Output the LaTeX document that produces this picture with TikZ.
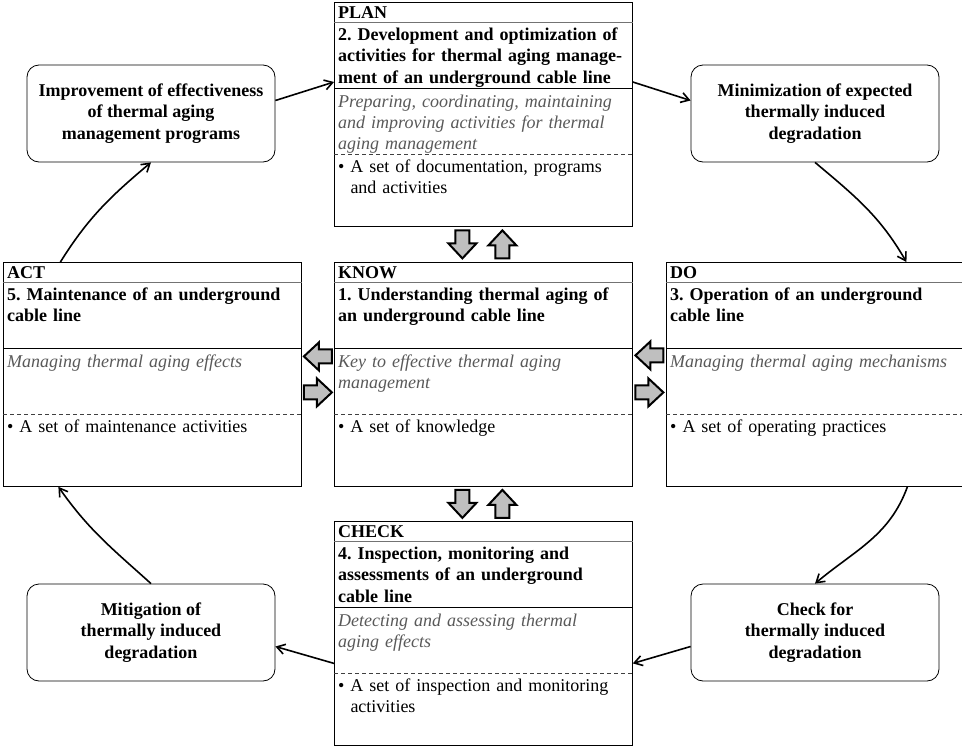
\documentclass[tikz,border=0pt]{standalone}
\usepackage{fontspec}
\setmainfont{Liberation Serif}
\usetikzlibrary{arrows.meta,calc}
\frenchspacing

\begin{document}
\begin{tikzpicture}[x=1pt,y=-1pt,>={Straight Barb[length=8pt,width=10pt]},
  frame/.style={draw,line width=0.8pt,anchor=north west,minimum width=298pt,minimum height=224pt,inner sep=0pt},
  txt/.style={anchor=base west,inner sep=0pt,text width=292pt,align=left,font=\fontsize{18}{21}\selectfont},
  ttl/.style={txt,font=\fontsize{18}{21}\selectfont\bfseries},
  bld/.style={txt,font=\fontsize{18}{21.5}\selectfont\bfseries},
  itl/.style={txt,font=\fontsize{18}{21}\selectfont\itshape,text=black!65},
  goal/.style={draw,line width=0.8pt,rounded corners=12pt,minimum width=248pt,minimum height=97pt,align=center,font=\fontsize{18}{21.5}\selectfont\bfseries},
  blk/.style={draw,line width=2pt,fill=black!25,line join=miter},
  cyc/.style={->,line width=1.6pt}]
\useasboundingbox (0,0) rectangle (962,747);
% stage boxes
\foreach \nm/\x/\y/\ttl/\ta/\tb/\tc in {
  plan/334/2/PLAN/{2. Development and optimization of\\activities for thermal aging manage-\\ment of an underground cable line}/{Preparing, coordinating, maintaining\\and improving activities for thermal\\aging management}/{A set of documentation, programs\\\hphantom{\textbullet\ }and activities},
  know/334/262/KNOW/{1. Understanding thermal aging of\\an underground cable line}/{Key to effective thermal aging\\management}/{A set of knowledge},
  act/3/262/ACT/{5. Maintenance of an underground\\cable line}/{Managing thermal aging effects}/{A set of maintenance activities},
  do/666/262/DO/{3. Operation of an underground\\cable line}/{Managing thermal aging mechanisms}/{A set of operating practices},
  check/334/521/CHECK/{4. Inspection, monitoring and\\assessments of an underground\\cable line}/{Detecting and assessing thermal\\aging effects}/{A set of inspection and monitoring\\\hphantom{\textbullet\ }activities}}{
  \node[frame] (\nm) at (\x,\y) {};
  \draw[black!55] ([yshift=-20pt]\nm.north west) -- ([yshift=-20pt]\nm.north east);
  \draw[line width=0.8pt] ([yshift=-86pt]\nm.north west) -- ([yshift=-86pt]\nm.north east);
  \draw[black!75,dash pattern=on 4pt off 3pt] ([yshift=-152pt]\nm.north west) -- ([yshift=-152pt]\nm.north east);
  \node[ttl] (\nm-t) at ([xshift=4pt,yshift=-16pt]\nm.north west) {\ttl};
  \node[bld] (\nm-a) at ([xshift=4pt,yshift=-38pt]\nm.north west) {\ta};
  \node[itl] (\nm-b) at ([xshift=4pt,yshift=-105pt]\nm.north west) {\tb};
  \node[txt] (\nm-c) at ([xshift=4pt,yshift=-170pt]\nm.north west) {\textbullet\ \tc};
}
% results
\node[goal] (tl) at (151,113.5) {Improvement of effectiveness\\of thermal aging\\management programs};
\node[goal] (tr) at (815,113.5) {Minimization of expected\\thermally induced\\degradation};
\node[goal] (bl) at (151,632.5) {Mitigation of\\thermally induced\\degradation};
\node[goal] (br) at (815,632.5) {Check for\\thermally induced\\degradation};
% exchange arrows
\coordinate (pk1) at ($(plan.south)!.5!(know.north)+(-21,0)$);
\coordinate (pk2) at ($(plan.south)!.5!(know.north)+(19,0)$);
\coordinate (kc1) at ($(know.south)!.5!(check.north)+(-21,0)$);
\coordinate (kc2) at ($(know.south)!.5!(check.north)+(19,0)$);
\coordinate (ka1) at ($(act.east)!.5!(know.west)+(0,-18)$);
\coordinate (ka2) at ($(act.east)!.5!(know.west)+(0,18)$);
\coordinate (dk1) at ($(know.east)!.5!(do.west)+(0,-19)$);
\coordinate (dk2) at ($(know.east)!.5!(do.west)+(0,18)$);
\foreach \c/\r in {pk1/0,pk2/180,kc1/0,kc2/180,ka1/-90,ka2/90,dk1/-90,dk2/90}
  \draw[blk,shift={(\c)},rotate=\r] (-7,-14) -- (7,-14) -- (7,-1) -- (14,-1) -- (0,14) -- (-14,-1) -- (-7,-1) -- cycle;
% cycle
\draw[cyc] ([yshift=13pt]tl.east) -- ([yshift=-80pt]plan.north west);
\draw[cyc] ([yshift=-80pt]plan.north east) -- ([yshift=13pt]tr.west);
\draw[cyc] (tr.south) to[out=-40,in=120] ([xshift=91pt]do.north);
\draw[cyc] ([xshift=92pt]do.south) to[out=-110,in=40] (br.north);
\draw[cyc] ([yshift=-14pt]br.west) -- ([yshift=-30pt]check.east);
\draw[cyc] ([yshift=-30pt]check.west) -- ([yshift=-14pt]bl.east);
\draw[cyc] (bl.north) to[out=138,in=-55] ([xshift=-94pt]act.south);
\draw[cyc] ([xshift=-92pt]act.north) to[out=58,in=-140] (tl.south);
\end{tikzpicture}
\end{document}
